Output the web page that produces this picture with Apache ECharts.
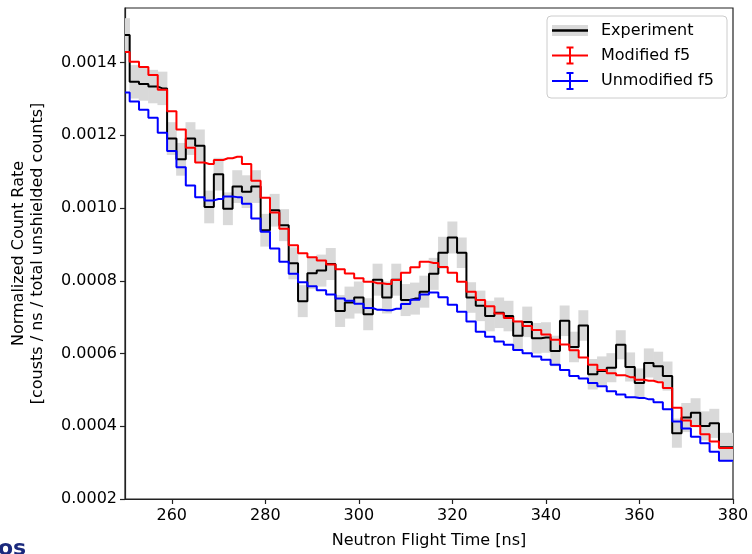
<!DOCTYPE html>
<html>
<head>
<meta charset="utf-8">
<script src="https://cdn.jsdelivr.net/npm/echarts@6/dist/echarts.min.js"></script>
<style>
  html, body { margin: 0; padding: 0; background: #fff; }
  #chart { width: 752px; height: 554px; }
</style>
</head>
<body>
<div id="chart"></div>
<script>
// Bin centres of the neutron time-of-flight spectrum [ns], 2 ns bins
const binCenters = [
  250, 252, 254, 256, 258, 260, 262, 264, 266, 268,
  270, 272, 274, 276, 278, 280, 282, 284, 286, 288,
  290, 292, 294, 296, 298, 300, 302, 304, 306, 308,
  310, 312, 314, 316, 318, 320, 322, 324, 326, 328,
  330, 332, 334, 336, 338, 340, 342, 344, 346, 348,
  350, 352, 354, 356, 358, 360, 362, 364, 366, 368,
  370, 372, 374, 376, 378, 380
];

// Measured normalized count rate
const experiment = [
  0.001476, 0.001347, 0.001341, 0.001334, 0.001329, 0.001191, 0.001134, 0.001191, 0.001171, 0.001003,
  0.001093, 0.000998, 0.001059, 0.001045, 0.001059, 0.000939, 0.000994, 0.000953, 0.000848, 0.000744,
  0.000821, 0.000828, 0.000846, 0.000717, 0.000740, 0.000754, 0.000708, 0.000803, 0.000754, 0.000803,
  0.000747, 0.000751, 0.000770, 0.000819, 0.000877, 0.000919, 0.000877, 0.000754, 0.000731, 0.000703,
  0.000712, 0.000703, 0.000649, 0.000687, 0.000642, 0.000644, 0.000607, 0.000690, 0.000618, 0.000677,
  0.000543, 0.000552, 0.000561, 0.000624, 0.000563, 0.000519, 0.000574, 0.000565, 0.000538, 0.000381,
  0.000424, 0.000437, 0.000401, 0.000408, 0.000342, 0.000342
];

// One-sigma uncertainty of the measurement
const experimentErr = [
  0.000046, 0.000046, 0.000046, 0.000046, 0.000046, 0.000045, 0.000045, 0.000045, 0.000045, 0.000045,
  0.000045, 0.000045, 0.000045, 0.000045, 0.000045, 0.000045, 0.000045, 0.000044, 0.000044, 0.000044,
  0.000044, 0.000044, 0.000044, 0.000044, 0.000044, 0.000044, 0.000044, 0.000044, 0.000044, 0.000044,
  0.000044, 0.000044, 0.000044, 0.000044, 0.000044, 0.000044, 0.000042, 0.000042, 0.000042, 0.000042,
  0.000042, 0.000042, 0.000042, 0.000042, 0.000042, 0.000042, 0.000042, 0.000042, 0.000042, 0.000042,
  0.000042, 0.000040, 0.000040, 0.000040, 0.000040, 0.000040, 0.000040, 0.000040, 0.000040, 0.000040,
  0.000040, 0.000040, 0.000040, 0.000040, 0.000040, 0.000040
];

// Simulation with the modified f5 distribution
const modifiedF5 = [
  0.001429, 0.001402, 0.001388, 0.001366, 0.001325, 0.001266, 0.001216, 0.001166, 0.001125, 0.001121,
  0.001132, 0.001137, 0.001141, 0.001121, 0.001075, 0.001028, 0.000988, 0.000943, 0.000898, 0.000876,
  0.000865, 0.000856, 0.000845, 0.000832, 0.000820, 0.000807, 0.000797, 0.000793, 0.000791, 0.000802,
  0.000822, 0.000837, 0.000852, 0.000849, 0.000838, 0.000822, 0.000797, 0.000770, 0.000747, 0.000730,
  0.000710, 0.000698, 0.000688, 0.000676, 0.000665, 0.000652, 0.000638, 0.000625, 0.000609, 0.000589,
  0.000569, 0.000555, 0.000546, 0.000540, 0.000535, 0.000528, 0.000525, 0.000521, 0.000505, 0.000451,
  0.000416, 0.000401, 0.000378, 0.000358, 0.000340, 0.000340
];

// Simulation with the unmodified f5 distribution
const unmodifiedF5 = [
  0.001318, 0.001293, 0.001270, 0.001248, 0.001207, 0.001157, 0.001112, 0.001062, 0.001030, 0.001021,
  0.001025, 0.001032, 0.001030, 0.001012, 0.000971, 0.000935, 0.000889, 0.000852, 0.000819, 0.000796,
  0.000785, 0.000774, 0.000762, 0.000751, 0.000745, 0.000737, 0.000725, 0.000720, 0.000719, 0.000723,
  0.000736, 0.000748, 0.000762, 0.000768, 0.000755, 0.000734, 0.000715, 0.000688, 0.000660, 0.000646,
  0.000633, 0.000624, 0.000610, 0.000601, 0.000592, 0.000583, 0.000569, 0.000555, 0.000538, 0.000531,
  0.000519, 0.000510, 0.000496, 0.000487, 0.000480, 0.000478, 0.000474, 0.000466, 0.000447, 0.000413,
  0.000394, 0.000371, 0.000353, 0.000330, 0.000305, 0.000305
];

const xTicks = [260, 280, 300, 320, 340, 360, 380];
const yTicks = [0.0002, 0.0004, 0.0006, 0.0008, 0.0010, 0.0012, 0.0014];

const FONT = 'DejaVu Sans';
const binHalfWidth = 1;

const chart = echarts.init(document.getElementById('chart'), null, { renderer: 'canvas' });

const pairs = (vals) => binCenters.map((t, i) => [t, vals[i]]);

const axisText = { color: '#000', fontSize: 16, fontFamily: FONT };

const option = {
  animation: false,
  backgroundColor: '#fff',
  grid: {
    left: 125, right: 19, top: 8, bottom: 53,
    show: true, borderColor: '#222', borderWidth: 1.2, backgroundColor: 'transparent'
  },
  xAxis: {
    type: 'value', min: 250, max: 380,
    name: 'Neutron Flight Time [ns]',
    nameLocation: 'middle', nameGap: 34,
    nameTextStyle: { color: '#000', fontSize: 16, fontFamily: FONT },
    axisLine: { show: true, onZero: false, lineStyle: { color: '#222', width: 1.2 } },
    axisTick: { show: true, customValues: xTicks, length: 5, lineStyle: { color: '#222', width: 1.2 } },
    axisLabel: { customValues: xTicks, margin: 9, ...axisText },
    splitLine: { show: false }
  },
  yAxis: {
    type: 'value', min: 0.0002, max: 0.00155,
    name: 'Normalized Count Rate\n[cousts / ns / total unshielded counts]',
    nameLocation: 'middle', nameRotate: 90, nameGap: 78,
    nameTextStyle: { color: '#000', fontSize: 16, fontFamily: FONT, lineHeight: 19 },
    axisLine: { show: true, onZero: false, lineStyle: { color: '#222', width: 1.2 } },
    axisTick: { show: true, customValues: yTicks, length: 5, lineStyle: { color: '#222', width: 1.2 } },
    axisLabel: { customValues: yTicks, margin: 8, formatter: (v) => v.toFixed(4), ...axisText },
    splitLine: { show: false }
  },
  series: [
    {
      name: 'Experiment band',
      type: 'custom',
      clip: true,
      z: 1,
      data: binCenters.map((t, i) => [t, experiment[i], experimentErr[i]]),
      renderItem: (params, api) => {
        const t = api.value(0), v = api.value(1), e = api.value(2);
        const p1 = api.coord([t - binHalfWidth, v + e]);
        const p2 = api.coord([t + binHalfWidth, v - e]);
        return {
          type: 'rect',
          shape: { x: p1[0] - 0.3, y: p1[1], width: p2[0] - p1[0] + 0.6, height: p2[1] - p1[1] },
          style: { fill: '#d9d9d9' }
        };
      }
    },
    {
      name: 'Experiment', type: 'line', step: 'middle', symbol: 'none', z: 3,
      data: pairs(experiment),
      lineStyle: { color: '#000', width: 2 }
    },
    {
      name: 'Modified f5', type: 'line', step: 'middle', symbol: 'none', z: 4,
      data: pairs(modifiedF5),
      lineStyle: { color: '#ff0000', width: 2 }
    },
    {
      name: 'Unmodified f5', type: 'line', step: 'middle', symbol: 'none', z: 5,
      data: pairs(unmodifiedF5),
      lineStyle: { color: '#0000ff', width: 2 }
    }
  ],
  graphic: [
    // legend frame
    { type: 'rect', z: 100, shape: { x: 547, y: 16, width: 180, height: 82, r: 4 },
      style: { fill: 'rgba(255,255,255,0.8)', stroke: '#cccccc', lineWidth: 1 } },
    // Experiment handle: band with centre line
    { type: 'rect', z: 101, shape: { x: 552, y: 25, width: 36, height: 11 }, style: { fill: '#d9d9d9' } },
    { type: 'line', z: 102, shape: { x1: 552, y1: 30.5, x2: 588, y2: 30.5 }, style: { stroke: '#000', lineWidth: 2.5 } },
    { type: 'text', z: 102, x: 601, y: 30.5,
      style: { text: 'Experiment', fill: '#000', font: '16px "DejaVu Sans"', verticalAlign: 'middle' } },
    // Modified f5 handle: error bar glyph
    { type: 'line', z: 102, shape: { x1: 552, y1: 55.5, x2: 588, y2: 55.5 }, style: { stroke: '#ff0000', lineWidth: 2 } },
    { type: 'line', z: 102, shape: { x1: 570, y1: 47.5, x2: 570, y2: 63.5 }, style: { stroke: '#ff0000', lineWidth: 2 } },
    { type: 'line', z: 102, shape: { x1: 566.5, y1: 47.5, x2: 573.5, y2: 47.5 }, style: { stroke: '#ff0000', lineWidth: 2 } },
    { type: 'line', z: 102, shape: { x1: 566.5, y1: 63.5, x2: 573.5, y2: 63.5 }, style: { stroke: '#ff0000', lineWidth: 2 } },
    { type: 'text', z: 102, x: 601, y: 55.5,
      style: { text: 'Modified f5', fill: '#000', font: '16px "DejaVu Sans"', verticalAlign: 'middle' } },
    // Unmodified f5 handle
    { type: 'line', z: 102, shape: { x1: 552, y1: 81, x2: 588, y2: 81 }, style: { stroke: '#0000ff', lineWidth: 2 } },
    { type: 'line', z: 102, shape: { x1: 570, y1: 73, x2: 570, y2: 89 }, style: { stroke: '#0000ff', lineWidth: 2 } },
    { type: 'line', z: 102, shape: { x1: 566.5, y1: 73, x2: 573.5, y2: 73 }, style: { stroke: '#0000ff', lineWidth: 2 } },
    { type: 'line', z: 102, shape: { x1: 566.5, y1: 89, x2: 573.5, y2: 89 }, style: { stroke: '#0000ff', lineWidth: 2 } },
    { type: 'text', z: 102, x: 601, y: 81,
      style: { text: 'Unmodified f5', fill: '#000', font: '16px "DejaVu Sans"', verticalAlign: 'middle' } },
    // clipped page caption in the lower-left corner
    { type: 'text', z: 102, x: -2, y: 538,
      style: { text: 'os', fill: '#1b2a7d', font: 'bold 22px "DejaVu Sans"', verticalAlign: 'top' } }
  ]
};

chart.setOption(option);
</script>
</body>
</html>
